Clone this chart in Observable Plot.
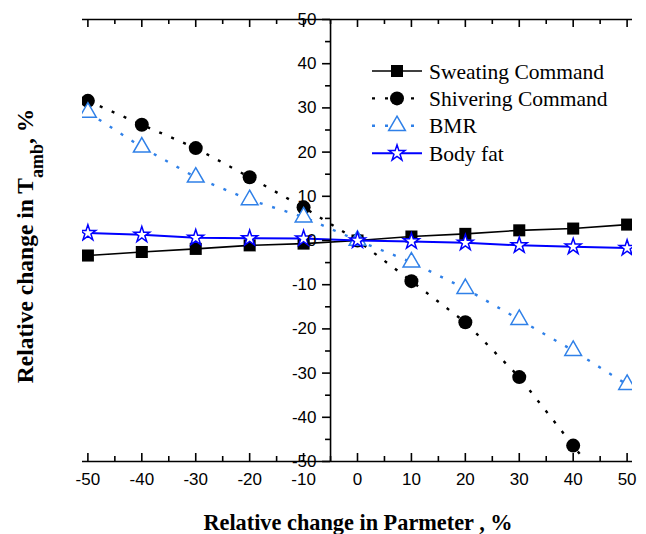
<!DOCTYPE html>
<html><head><meta charset="utf-8">
<script src="https://cdn.jsdelivr.net/npm/d3@7"></script>
<script src="https://cdn.jsdelivr.net/npm/@observablehq/plot@0.6"></script>
<style>body{margin:0;background:#fff} #chart{width:646px;height:534px}</style>
</head><body><div id="chart"></div>
<script>
// ---- data ----
const xValues   = [-50, -40, -30, -20, -10, 0, 10, 20, 30, 40, 50];
const sweating  = [-3.4, -2.6, -1.9, -1.1, -0.7, 0, 0.9, 1.5, 2.3, 2.7, 3.6];
const shivering = [31.6, 26.2, 20.9, 14.3, 7.5, 0, -9.2, -18.5, -30.9, -46.4, -62];
const bmr       = [29.0, 21.1, 14.3, 9.2, 5.3, 0, -4.9, -10.9, -17.9, -24.9, -32.6];
const bodyFat   = [1.7, 1.3, 0.6, 0.5, 0.45, 0, -0.2, -0.5, -1.1, -1.4, -1.7];
const seriesNames = ["Sweating Command", "Shivering Command", "BMR", "Body fat"];
const xTickLabels = [-50, -40, -30, -20, -10, 0, 10, 20, 30, 40, 50];
const xMinorTicks = [-45, -35, -25, -15, -5, 5, 15, 25, 35, 45];
const yTickLabels = [-50, -40, -30, -20, -10, 0, 10, 20, 30, 40, 50];
const yMinorTicks = [-45, -35, -25, -15, -5, 5, 15, 25, 35, 45];
const yAxisAt = -5;
const xTitle = "Relative change in Parmeter , %";

// ---- styles ----
const W = 646, H = 534, mL = 82, mR = 14, mT = 19, mB = 73;
const frameH = H - mT - mB;
const BMR_BLUE = "#2f80e8", FAT_BLUE = "#0000ff";
const styles = [
  {stroke: "black", strokeWidth: 1.6, dash: null, symbol: "square", d3sym: d3.symbolSquare, fill: "black", symStroke: "none", r: 6.8},
  {stroke: "black", strokeWidth: 2.4, dash: "3,10", symbol: "circle", d3sym: d3.symbolCircle, fill: "black", symStroke: "none", r: 7},
  {stroke: BMR_BLUE, strokeWidth: 2.4, dash: "3,10", symbol: "triangle", d3sym: d3.symbolTriangle, fill: "white", symStroke: BMR_BLUE, r: 6.2},
  {stroke: FAT_BLUE, strokeWidth: 2, dash: null, symbol: "star", d3sym: d3.symbolStar, fill: "white", symStroke: FAT_BLUE, r: 5}
];
const allSeries = [sweating, shivering, bmr, bodyFat];
const rows = [];
allSeries.forEach((vals, k) => vals.forEach((v, i) => rows.push({series: seriesNames[k], x: xValues[i], y: v})));

const dataMarks = [];
seriesNames.forEach((name, k) => {
  const s = styles[k];
  const d = rows.filter(r => r.series === name);
  dataMarks.push(Plot.line(d, {x: "x", y: "y", stroke: s.stroke, strokeWidth: s.strokeWidth, strokeDasharray: s.dash, strokeLinecap: "butt", clip: true}));
  dataMarks.push(Plot.dot(d, {x: "x", y: "y", symbol: s.symbol, r: s.r, fill: s.fill, stroke: s.symStroke, strokeWidth: 1.5, clip: true}));
});

const tickFont = "Liberation Sans, Arial, sans-serif";
const plot = Plot.plot({
  width: W, height: H,
  marginLeft: mL, marginRight: mR, marginTop: mT, marginBottom: mB,
  x: {domain: [-51, 51], axis: null},
  y: {domain: [-50, 50], axis: null},
  style: {background: "white", overflow: "visible"},
  marks: [
    ...dataMarks,
    Plot.ruleY([-50, 50], {stroke: "black", strokeWidth: 1.6}),
    Plot.ruleX([yAxisAt], {stroke: "black", strokeWidth: 1.6}),
    Plot.tickX(xTickLabels, {x: d => d, insetBottom: frameH - 8, stroke: "black", strokeWidth: 1.6}),
    Plot.tickX(xMinorTicks, {x: d => d, insetBottom: frameH - 5, stroke: "black", strokeWidth: 1.6}),
    Plot.tickX(xTickLabels, {x: d => d, insetTop: frameH - 8, stroke: "black", strokeWidth: 1.6}),
    Plot.tickX(xMinorTicks, {x: d => d, insetTop: frameH - 5, stroke: "black", strokeWidth: 1.6}),
    Plot.ruleY(yTickLabels, {y: d => d, x1: yAxisAt, x2: yAxisAt, insetLeft: -8, stroke: "black", strokeWidth: 1.6}),
    Plot.ruleY(yMinorTicks, {y: d => d, x1: yAxisAt, x2: yAxisAt, insetLeft: -5, stroke: "black", strokeWidth: 1.6}),
    Plot.text(yTickLabels, {x: yAxisAt, y: d => d, text: d => String(d), textAnchor: "end", dx: -14, fontSize: 17, fontFamily: tickFont, fill: "black"}),
    Plot.text(xTickLabels, {x: d => d, y: -50, dy: 18, text: d => String(d), fontSize: 17, fontFamily: tickFont, fill: "black"})
  ]
});
document.getElementById("chart").appendChild(plot);

// ---- titles & legend (added onto the Plot SVG) ----
const svg = d3.select(plot);
const serif = "'Liberation Serif', 'Times New Roman', serif";
svg.append("text").attr("x", 358).attr("y", 530).attr("text-anchor", "middle")
  .attr("font-family", serif).attr("font-weight", "bold").attr("font-size", 22.3).attr("fill", "black")
  .text(xTitle);
const yt = svg.append("text").attr("transform", "translate(33,246) rotate(-90)").attr("text-anchor", "middle")
  .attr("font-family", serif).attr("font-weight", "bold").attr("font-size", 23.5).attr("fill", "black");
yt.append("tspan").text("Relative change in T");
yt.append("tspan").attr("font-size", 18).attr("dy", 10).text("amb");
yt.append("tspan").attr("dy", -10).text(", %");

const lg = svg.append("g");
seriesNames.forEach((name, k) => {
  const s = styles[k];
  const y = 71 + k * 27.4;
  lg.append("line").attr("x1", 372).attr("x2", 422).attr("y1", y).attr("y2", y)
    .attr("stroke", s.stroke).attr("stroke-width", s.strokeWidth).attr("stroke-dasharray", s.dash);
  lg.append("path").attr("d", d3.symbol(s.d3sym, s.r * s.r * Math.PI)())
    .attr("transform", `translate(397,${y})`).attr("fill", s.fill)
    .attr("stroke", s.symStroke).attr("stroke-width", 1.5);
  lg.append("text").attr("x", 429).attr("y", y).attr("dy", "0.35em").attr("text-anchor", "start")
    .attr("font-family", serif).attr("font-size", 21.5).attr("fill", "black").text(name);
});
</script>
</body></html>
